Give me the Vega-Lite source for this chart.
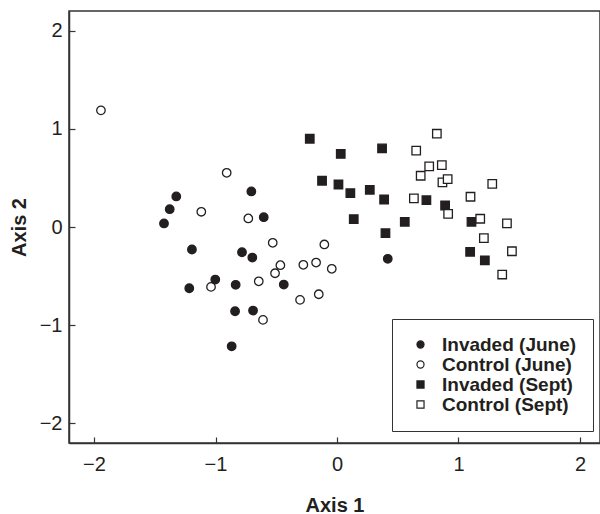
{
  "$schema": "https://vega.github.io/schema/vega-lite/v6.json",
  "width": 531,
  "height": 432,
  "autosize": "none",
  "padding": {"left": 69, "top": 11, "right": 0, "bottom": 71},
  "background": "white",
  "config": {
    "font": "Liberation Sans",
    "view": {"stroke": "#333333", "strokeWidth": 1.5},
    "axis": {"grid": false, "domainColor": "#333333", "domainWidth": 1.5, "tickColor": "#333333", "tickWidth": 1.2, "labelColor": "#231f20", "titleColor": "#231f20", "labelFontSize": 20, "titleFontSize": 20, "titleFontWeight": "bold", "labelFont": "Liberation Sans", "titleFont": "Liberation Sans"}
  },
  "data": {
    "values": [
      {"x": -1.943, "y": 1.188, "g": "Control (June)"},
      {"x": -0.908, "y": 0.552, "g": "Control (June)"},
      {"x": -1.117, "y": 0.155, "g": "Control (June)"},
      {"x": -0.730, "y": 0.087, "g": "Control (June)"},
      {"x": -0.529, "y": -0.161, "g": "Control (June)"},
      {"x": -0.104, "y": -0.178, "g": "Control (June)"},
      {"x": -0.466, "y": -0.389, "g": "Control (June)"},
      {"x": -0.277, "y": -0.385, "g": "Control (June)"},
      {"x": -0.172, "y": -0.362, "g": "Control (June)"},
      {"x": -0.043, "y": -0.426, "g": "Control (June)"},
      {"x": -0.510, "y": -0.471, "g": "Control (June)"},
      {"x": -0.644, "y": -0.553, "g": "Control (June)"},
      {"x": -1.037, "y": -0.610, "g": "Control (June)"},
      {"x": -0.304, "y": -0.742, "g": "Control (June)"},
      {"x": -0.150, "y": -0.685, "g": "Control (June)"},
      {"x": -0.609, "y": -0.946, "g": "Control (June)"},
      {"x": -1.323, "y": 0.311, "g": "Invaded (June)"},
      {"x": -1.377, "y": 0.181, "g": "Invaded (June)"},
      {"x": -1.424, "y": 0.036, "g": "Invaded (June)"},
      {"x": -0.705, "y": 0.362, "g": "Invaded (June)"},
      {"x": -0.603, "y": 0.100, "g": "Invaded (June)"},
      {"x": -1.194, "y": -0.229, "g": "Invaded (June)"},
      {"x": -0.782, "y": -0.257, "g": "Invaded (June)"},
      {"x": -0.697, "y": -0.311, "g": "Invaded (June)"},
      {"x": -1.002, "y": -0.535, "g": "Invaded (June)"},
      {"x": -1.216, "y": -0.624, "g": "Invaded (June)"},
      {"x": -0.834, "y": -0.589, "g": "Invaded (June)"},
      {"x": -0.438, "y": -0.586, "g": "Invaded (June)"},
      {"x": -0.839, "y": -0.858, "g": "Invaded (June)"},
      {"x": -0.691, "y": -0.851, "g": "Invaded (June)"},
      {"x": -0.867, "y": -1.215, "g": "Invaded (June)"},
      {"x": 0.418, "y": -0.324, "g": "Invaded (June)"},
      {"x": -0.224, "y": 0.899, "g": "Invaded (Sept)"},
      {"x": 0.031, "y": 0.744, "g": "Invaded (Sept)"},
      {"x": 0.371, "y": 0.800, "g": "Invaded (Sept)"},
      {"x": -0.123, "y": 0.471, "g": "Invaded (Sept)"},
      {"x": 0.012, "y": 0.433, "g": "Invaded (Sept)"},
      {"x": 0.110, "y": 0.345, "g": "Invaded (Sept)"},
      {"x": 0.270, "y": 0.379, "g": "Invaded (Sept)"},
      {"x": 0.388, "y": 0.280, "g": "Invaded (Sept)"},
      {"x": 0.736, "y": 0.273, "g": "Invaded (Sept)"},
      {"x": 0.890, "y": 0.219, "g": "Invaded (Sept)"},
      {"x": 0.138, "y": 0.080, "g": "Invaded (Sept)"},
      {"x": 0.558, "y": 0.053, "g": "Invaded (Sept)"},
      {"x": 0.399, "y": -0.063, "g": "Invaded (Sept)"},
      {"x": 1.107, "y": 0.053, "g": "Invaded (Sept)"},
      {"x": 1.096, "y": -0.253, "g": "Invaded (Sept)"},
      {"x": 1.217, "y": -0.341, "g": "Invaded (Sept)"},
      {"x": 0.822, "y": 0.950, "g": "Control (Sept)"},
      {"x": 0.652, "y": 0.777, "g": "Control (Sept)"},
      {"x": 0.759, "y": 0.617, "g": "Control (Sept)"},
      {"x": 0.863, "y": 0.630, "g": "Control (Sept)"},
      {"x": 0.689, "y": 0.522, "g": "Control (Sept)"},
      {"x": 0.868, "y": 0.454, "g": "Control (Sept)"},
      {"x": 0.911, "y": 0.487, "g": "Control (Sept)"},
      {"x": 0.633, "y": 0.291, "g": "Control (Sept)"},
      {"x": 0.915, "y": 0.133, "g": "Control (Sept)"},
      {"x": 1.278, "y": 0.440, "g": "Control (Sept)"},
      {"x": 1.099, "y": 0.308, "g": "Control (Sept)"},
      {"x": 1.179, "y": 0.084, "g": "Control (Sept)"},
      {"x": 1.399, "y": 0.036, "g": "Control (Sept)"},
      {"x": 1.209, "y": -0.114, "g": "Control (Sept)"},
      {"x": 1.440, "y": -0.247, "g": "Control (Sept)"},
      {"x": 1.360, "y": -0.484, "g": "Control (Sept)"}
    ]
  },
  "mark": {"type": "point", "filled": true, "strokeWidth": 1.3, "opacity": 1},
  "encoding": {
    "x": {"field": "x", "type": "quantitative", "scale": {"domain": [-2.206, 2.165], "nice": false, "zero": false},
      "axis": {"values": [-2, -1, 0, 1, 2], "title": "Axis 1", "tickSize": -6, "labelPadding": 17, "titlePadding": 21}},
    "y": {"field": "y", "type": "quantitative", "scale": {"domain": [-2.2, 2.2], "nice": false, "zero": false},
      "axis": {"values": [-2, -1, 0, 1, 2], "title": "Axis 2", "tickSize": -6, "labelPadding": 13, "titlePadding": 10}},
    "shape": {"field": "g", "type": "nominal", "title": null,
      "scale": {"domain": ["Invaded (June)", "Control (June)", "Invaded (Sept)", "Control (Sept)"], "range": ["circle", "circle", "square", "square"]},
      "legend": {"orient": "none", "legendX": 323, "legendY": 308, "strokeColor": "#333333", "fillColor": "white", "padding": 16, "labelFontSize": 19, "labelFontWeight": "bold", "labelColor": "#231f20", "labelFont": "Liberation Sans", "symbolSize": 50, "symbolStrokeWidth": 1.2, "symbolOffset": 3, "labelOffset": 12, "rowPadding": -0.7}},
    "fill": {"field": "g", "type": "nominal", "title": null,
      "scale": {"domain": ["Invaded (June)", "Control (June)", "Invaded (Sept)", "Control (Sept)"], "range": ["#231f20", "#ffffff", "#231f20", "#ffffff"]},
      "legend": {"orient": "none", "legendX": 323, "legendY": 308, "strokeColor": "#333333", "fillColor": "white", "padding": 16, "labelFontSize": 19, "labelFontWeight": "bold", "labelColor": "#231f20", "labelFont": "Liberation Sans", "symbolSize": 50, "symbolStrokeWidth": 1.2, "symbolOffset": 3, "labelOffset": 12, "rowPadding": -0.7}},
    "stroke": {"field": "g", "type": "nominal", "title": null,
      "scale": {"domain": ["Invaded (June)", "Control (June)", "Invaded (Sept)", "Control (Sept)"], "range": ["#231f20", "#231f20", "#231f20", "#231f20"]},
      "legend": {"orient": "none", "legendX": 323, "legendY": 308, "strokeColor": "#333333", "fillColor": "white", "padding": 16, "labelFontSize": 19, "labelFontWeight": "bold", "labelColor": "#231f20", "labelFont": "Liberation Sans", "symbolSize": 50, "symbolStrokeWidth": 1.2, "symbolOffset": 3, "labelOffset": 12, "rowPadding": -0.7}},
    "size": {"value": 72}
  }
}
